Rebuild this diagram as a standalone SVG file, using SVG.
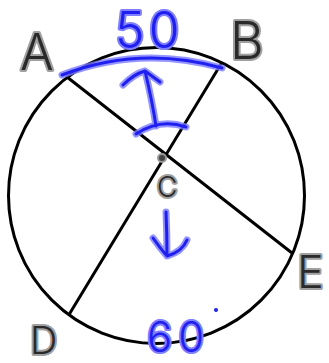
<svg xmlns="http://www.w3.org/2000/svg" width="329" height="363" viewBox="0 0 329 363">
<style>
.ln{stroke:#000;stroke-width:3;fill:none;stroke-linecap:round}
.lbl{font-family:Inter,"Liberation Sans",Arial,sans-serif;font-weight:300;fill:#2a2a2a;stroke:#a0a0a0;stroke-width:4;paint-order:stroke;stroke-linejoin:round}
.bh{fill:none;stroke:#7a7aff;stroke-width:7;stroke-linecap:round;stroke-linejoin:round;opacity:0.8}
.bc{fill:none;stroke:#1f1ff0;stroke-width:3;stroke-linecap:round;stroke-linejoin:round}
.bt{font-family:Inter,"Liberation Sans",Arial,sans-serif;font-weight:300;fill:#1f1ff0;stroke:#8080ff;stroke-width:4;paint-order:stroke;stroke-linejoin:round}
</style>
<rect width="329" height="363" fill="#fff"/>
<g id="circle">
<circle class="ln" cx="156.5" cy="195.5" r="148"/>
</g>
<g id="connectors">
<line class="ln" x1="67" y1="77" x2="292" y2="253"/>
<line class="ln" x1="221" y1="64" x2="70" y2="313"/>
</g>
<g id="center">
<circle cx="162" cy="158" r="4" fill="#444" stroke="#999" stroke-width="2"/>
</g>
<g id="nodeA"><text class="lbl" x="20" y="70" font-size="50">A</text></g>
<g id="nodeB"><text class="lbl" x="230" y="59" font-size="52">B</text></g>
<g id="nodeC"><text class="lbl" x="157" y="197" font-size="28">C</text></g>
<g id="nodeD"><text class="lbl" x="30" y="354" font-size="38">D</text></g>
<g id="nodeE"><text class="lbl" x="297" y="288" font-size="45">E</text></g>
<g id="annotations">
<path class="bh" d="M62,75 Q140,45 222,68"/>
<path class="bc" d="M62,75 Q140,45 222,68"/>
<path class="bh" d="M123,85 Q134,74 145,71 L160,82 M145,71 Q152,100 156,126 M136,134 Q160,118 186,127"/>
<path class="bc" d="M123,85 Q134,74 145,71 L160,82 M145,71 Q152,100 156,126 M136,134 Q160,118 186,127"/>
<path class="bh" d="M166,212 Q167,235 167,256 Q160,248 153,238 M167,256 Q182,252 187,240"/>
<path class="bc" d="M166,212 Q167,235 167,256 Q160,248 153,238 M167,256 Q182,252 187,240"/>
<text class="bt" x="115" y="48" font-size="50" letter-spacing="4">50</text>
<text class="bt" x="147" y="352" font-size="42" letter-spacing="6">60</text>
<circle cx="216" cy="310" r="2" fill="#1f1ff0"/>
</g>
</svg>
